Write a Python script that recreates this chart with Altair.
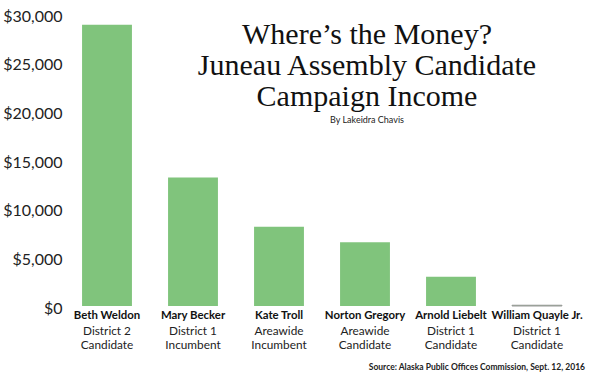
import altair as alt
import pandas as pd

# Campaign income by candidate (USD)
names = ["Beth Weldon", "Mary Becker", "Kate Troll", "Norton Gregory", "Arnold Liebelt", "William Quayle Jr."]
seats = ["District 2", "District 1", "Areawide", "Areawide", "District 1", "District 1"]
roles = ["Candidate", "Incumbent", "Incumbent", "Candidate", "Candidate", "Candidate"]
income = [28900, 13200, 8150, 6550, 3000, 80]

title_lines = ["Where\u2019s the Money?", "Juneau Assembly Candidate", "Campaign Income"]
byline = "By Lakeidra Chavis"
source = "Source: Alaska Public Offices Commission, Sept. 12, 2016"

df = pd.DataFrame({"name": names, "seat": seats, "role": roles, "income": income})

W, H = 516, 292
BAR = "#80c47c"
SANS = "Lato"

x = alt.X("name:N", sort=names, title=None,
          scale=alt.Scale(paddingInner=0.42, paddingOuter=0.21),
          axis=None)
y = alt.Y("income:Q", title=None,
          scale=alt.Scale(domain=[0, 30000], nice=False, zero=True),
          axis=alt.Axis(values=[0, 5000, 10000, 15000, 20000, 25000, 30000],
                        format="$,.0f", grid=False, domain=False, ticks=False,
                        tickSize=0, labelFont=SANS, labelFontSize=16,
                        labelColor="#222", labelPadding=2, labelOffset=2,
                        labelBaseline="middle"))

base = alt.Chart(df)

bars = base.mark_bar(color=BAR, stroke="#999").encode(
    x=x, y=y,
    strokeWidth=alt.condition("datum.income < 500", alt.value(1), alt.value(0)),
)

# Three-line category labels under each bar
name_text = base.mark_text(font=SANS, fontWeight="bold", fontSize=11.4,
                           color="#111", baseline="middle", dy=10).encode(
    x=x, y=alt.datum(0), text="name:N")
seat_text = base.mark_text(font=SANS, fontSize=11.8, color="#222",
                           baseline="middle", dy=25).encode(
    x=x, y=alt.datum(0), text="seat:N")
role_text = base.mark_text(font=SANS, fontSize=11.8, color="#222",
                           baseline="middle", dy=39).encode(
    x=x, y=alt.datum(0), text="role:N")


def label(text, px, py, **style):
    return alt.Chart(pd.DataFrame({"t": [text]})).mark_text(
        baseline="middle", **style).encode(
        x=alt.value(px), y=alt.value(py), text="t:N")


headline = [
    label(line, 303, 21 + i * 31, font="Liberation Serif", fontSize=30, color="#111")
    for i, line in enumerate(title_lines)
]
by = label(byline, 303, 106, font=SANS, fontSize=9, color="#222")
src = label(source, 521, 353, font=SANS, fontSize=8.5, fontWeight="bold",
            color="#222", align="right")

chart = alt.layer(bars, name_text, seat_text, role_text, *headline, by, src).properties(
    width=W, height=H,
    background="white",
    autosize=alt.AutoSizeParams(type="none"),
    padding={"left": 64, "top": 14, "right": 12, "bottom": 76},
).configure_view(stroke=None)

chart.save("out.html", embed_options={"renderer": "svg", "actions": False})
